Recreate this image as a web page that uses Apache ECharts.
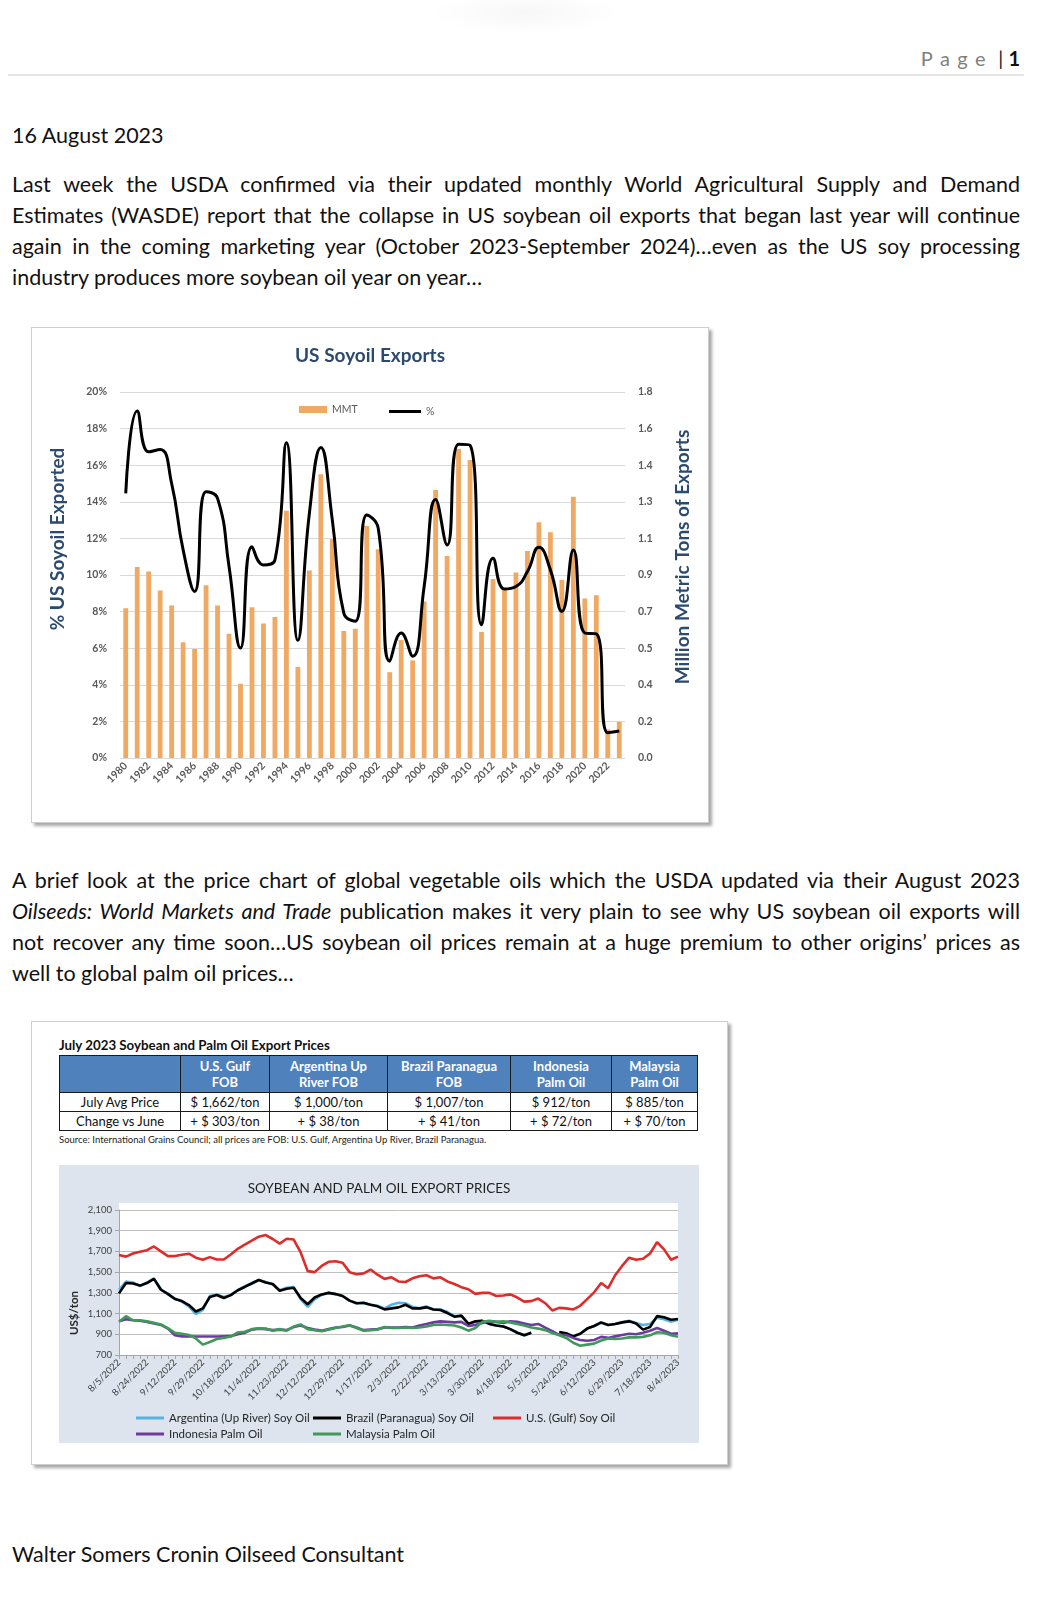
<!DOCTYPE html>
<html>
<head>
<meta charset="utf-8">
<script src="https://cdn.jsdelivr.net/npm/echarts/dist/echarts.min.js"></script>
<style>
  html, body { margin:0; padding:0; background:#fff; }
  body { width:1053px; height:1600px; position:relative; font-family:'Lato', 'Open Sans', sans-serif; color:#111; overflow:hidden; }
  .abs { position:absolute; }
  .txt { font-size:21.5px; line-height:31px; }
  .jl { width:1008px; white-space:nowrap; overflow:visible; }
  .jl span { white-space:nowrap; }
  .frame { position:absolute; box-sizing:border-box; border:1px solid #cfcfcf; background:#fff; box-shadow:3px 3px 3px rgba(0,0,0,0.35); }
  #tbl { position:absolute; left:59px; top:1055px; border-collapse:collapse; font-family:'Lato', sans-serif; table-layout:fixed; }
  #tbl td { border:1px solid #1a1a1a; text-align:center; padding:0; white-space:nowrap; }
  #tbl tr.head td { background:#4F81BD; color:#fff; font-weight:bold; font-size:13px; line-height:16px; height:36px; }
  #tbl tr.row td { font-size:13px; line-height:17px; height:18px; color:#111; }
</style>
</head>
<body>
<div class="abs" style="left:430px;top:-10px;width:190px;height:45px;border-radius:50%;background:radial-gradient(ellipse at center, rgba(0,0,0,0.03) 0%, rgba(0,0,0,0) 70%);"></div>

<div class="abs" style="right:33px;top:45px;font-size:20px;line-height:26px;white-space:nowrap;">
  <span style="letter-spacing:7.5px;color:#7f7f7f;">Page</span><span style="color:#222;"> | </span><b style="color:#111;">1</b>
</div>
<div class="abs" style="left:8px;top:74px;width:1016px;height:2px;background:#e4e4e4;"></div>

<div class="abs txt" style="left:12px;top:120px;">16 August 2023</div>

<div class="abs txt" style="left:12px;top:169px;">
  <div class="jl"><span>Last week the USDA confirmed via their updated monthly World Agricultural Supply and Demand</span></div>
  <div class="jl"><span>Estimates (WASDE) report that the collapse in US soybean oil exports that began last year will continue</span></div>
  <div class="jl"><span>again in the coming marketing year (October 2023-September 2024)…even as the US soy processing</span></div>
  <div><span>industry produces more soybean oil year on year…</span></div>
</div>

<div class="frame" style="left:31px;top:327px;width:678px;height:496px;">
  <div id="c1" style="width:676px;height:494px;"></div>
</div>

<div class="abs txt" style="left:12px;top:865px;">
  <div class="jl"><span>A brief look at the price chart of global vegetable oils which the USDA updated via their August 2023</span></div>
  <div class="jl"><span><i>Oilseeds: World Markets and Trade</i> publication makes it very plain to see why US soybean oil exports will</span></div>
  <div class="jl"><span>not recover any time soon…US soybean oil prices remain at a huge premium to other origins’ prices as</span></div>
  <div><span>well to global palm oil prices…</span></div>
</div>

<div class="frame" style="left:31px;top:1021px;width:697px;height:444px;"></div>
<div class="abs" style="left:59px;top:1036px;font-size:13.3px;line-height:18px;font-weight:bold;color:#111;white-space:nowrap;">July 2023 Soybean and Palm Oil Export Prices</div>
<table id="tbl"></table>
<div class="abs" style="left:59px;top:1134px;font-size:9.5px;line-height:12px;color:#222;white-space:nowrap;">Source: International Grains Council; all prices are FOB: U.S. Gulf, Argentina Up River, Brazil Paranagua.</div>
<div id="c2" class="abs" style="left:59px;top:1165px;width:640px;height:278px;"></div>

<div class="abs txt" style="left:12px;top:1539px;">Walter Somers Cronin Oilseed Consultant</div>

<script>
// ---------- Chart 1 data ----------
const YEARS = ['1980','1981','1982','1983','1984','1985','1986','1987','1988','1989',
               '1990','1991','1992','1993','1994','1995','1996','1997','1998','1999',
               '2000','2001','2002','2003','2004','2005','2006','2007','2008','2009',
               '2010','2011','2012','2013','2014','2015','2016','2017','2018','2019',
               '2020','2021','2022','2023'];
const MMT = [0.737, 0.939, 0.917, 0.824, 0.75, 0.569, 0.536, 0.849, 0.75, 0.611,
             0.365, 0.742, 0.662, 0.693, 1.216, 0.448, 0.922, 1.396, 1.077, 0.625,
             0.636, 1.141, 1.027, 0.422, 0.58, 0.48, 0.77, 1.318, 0.994, 1.52,
             1.465, 0.62, 0.88, 0.83, 0.912, 1.018, 1.159, 1.11, 0.876, 1.285,
             0.785, 0.801, 0.14, 0.178];
const PCT = [14.46, 18.96, 16.73, 16.86, 15.0, 11.37, 9.1, 14.55, 14.19, 10.46,
             6.01, 11.55, 10.55, 10.83, 17.22, 6.43, 13.37, 16.97, 13.0, 7.92,
             7.47, 13.28, 12.55, 5.29, 6.83, 5.56, 9.37, 14.13, 11.64, 17.15,
             17.09, 7.28, 10.92, 9.23, 9.37, 10.19, 11.52, 10.28, 8.01, 11.37,
             6.83, 6.79, 1.38, 1.47];

// ---------- Table data ----------
const TABLE_HEAD = ['', 'U.S. Gulf<br>FOB', 'Argentina Up<br>River FOB', 'Brazil Paranagua<br>FOB', 'Indonesia<br>Palm Oil', 'Malaysia<br>Palm Oil'];
const ROW_NAMES = ['July Avg Price', 'Change vs June'];
const AVG_PRICE = ['$ 1,662/ton', '$ 1,000/ton', '$ 1,007/ton', '$ 912/ton', '$ 885/ton'];
const CHANGE = ['+ $ 303/ton', '+ $ 38/ton', '+ $ 41/ton', '+ $ 72/ton', '+ $ 70/ton'];

// ---------- Chart 2 data ----------
const DATE_LABELS = ['8/5/2022','8/24/2022','9/12/2022','9/29/2022','10/18/2022','11/4/2022','11/23/2022',
  '12/12/2022','12/29/2022','1/17/2022','2/3/2022','2/22/2022','3/13/2022','3/30/2022','4/18/2022',
  '5/5/2022','5/24/2023','6/12/2023','6/29/2023','7/18/2023','8/4/2023'];
const ARGENTINA = [1330,1410,1400,1365,1400,1440,1335,1285,1245,1215,1170,1095,1135,1270,1285,1260,1280,1325,1365,1395,
  1425,1405,1380,1325,1350,1355,1240,1165,1240,1280,1300,1290,1270,1225,1200,1200,1185,1175,1150,1185,
  1205,1200,1165,1150,1170,1140,1140,1115,1075,1075,1005,1020,1030,1000,985,975,950,915,890,915,
  null,null,null,920,905,880,905,955,980,1010,990,1000,1015,1030,1010,990,1000,1060,1045,1020,1040];
const BRAZIL = [1295,1395,1390,1370,1395,1435,1330,1290,1240,1221,1182,1120,1150,1260,1279,1250,1278,1325,1357,1390,
  1424,1400,1385,1320,1340,1350,1250,1190,1255,1285,1300,1288,1270,1225,1200,1205,1185,1170,1140,1150,
  1160,1185,1150,1150,1160,1140,1135,1105,1070,1080,1000,1025,1030,1000,985,975,950,915,890,915,
  null,null,null,922,910,880,905,955,980,1015,990,1000,1015,1025,1005,945,970,1075,1065,1040,1047];
const US_GULF = [1665,1650,1680,1697,1712,1748,1700,1655,1655,1668,1678,1640,1620,1645,1622,1622,1670,1725,1765,1805,
  1842,1858,1820,1775,1822,1815,1690,1510,1500,1560,1600,1605,1590,1500,1480,1488,1525,1475,1435,1450,
  1410,1405,1440,1460,1470,1440,1450,1410,1385,1355,1335,1290,1300,1300,1270,1275,1285,1255,1215,1220,
  1245,1200,1130,1155,1150,1140,1175,1240,1305,1395,1345,1470,1560,1640,1620,1630,1680,1790,1720,1620,1650];
const INDONESIA = [1025,1045,1035,1030,1020,1005,990,955,890,880,880,878,878,878,878,880,882,900,915,945,
  955,950,940,945,940,970,985,960,945,935,950,965,970,985,965,940,945,950,965,965,
  965,970,965,985,1000,1015,1025,1020,1015,1020,980,990,1010,1025,1020,1010,1025,1020,1005,990,
  1000,965,930,895,893,865,845,838,845,875,865,880,893,905,900,915,935,960,935,905,909];
const MALAYSIA = [1021,1075,1035,1035,1025,1010,995,960,915,905,893,860,800,825,855,865,878,918,925,950,
  957,955,935,950,935,975,995,950,940,930,945,960,975,988,960,935,940,945,970,960,
  960,965,960,965,975,990,995,990,985,965,935,960,1020,1030,1020,1025,1015,1000,985,965,
  955,940,912,890,865,818,790,800,810,840,860,855,860,870,870,875,890,920,915,890,877];

// ---------- Table ----------
(function buildTable(){
  const widths = [121, 89, 118, 123, 101, 86];
  let html = '<colgroup>' + widths.map(w => '<col style="width:' + w + 'px">').join('') + '</colgroup>';
  html += '<tr class="head">' + TABLE_HEAD.map(h => '<td>' + h + '</td>').join('') + '</tr>';
  html += '<tr class="row"><td>' + ROW_NAMES[0] + '</td>' + AVG_PRICE.map(v => '<td>' + v + '</td>').join('') + '</tr>';
  html += '<tr class="row"><td>' + ROW_NAMES[1] + '</td>' + CHANGE.map(v => '<td>' + v + '</td>').join('') + '</tr>';
  const t = document.getElementById('tbl');
  t.innerHTML = html;
  t.style.width = widths.reduce((a, b) => a + b, 0) + 'px';
})();

// ---------- Justify lines ----------
document.querySelectorAll('.jl').forEach(div => {
  const span = div.querySelector('span');
  const w = span.getBoundingClientRect().width;
  const spaces = (span.textContent.match(/ /g) || []).length;
  if (spaces > 0) span.style.wordSpacing = ((1008 - w) / spaces) + 'px';
});

// ---------- Chart 1 ----------
const c1 = echarts.init(document.getElementById('c1'), null, {renderer: 'canvas'});
const grayTxt = '#595959';
const navy = '#2B4A6F';
c1.setOption({
  animation: false,
  backgroundColor: '#fff',
  textStyle: { fontFamily: 'Lato' },
  title: { text: 'US Soyoil Exports', left: 'center', top: 13,
    textStyle: { fontFamily: 'Lato', fontWeight: 'bold', fontSize: 19, color: navy } },
  legend: [
    { data: ['MMT'], left: 267, top: 76, padding: 0, icon: 'rect', itemWidth: 28, itemHeight: 7,
      textStyle: { fontSize: 10.5, color: grayTxt, fontFamily: 'Lato' } },
    { data: ['%'], left: 357, top: 78, padding: 0, icon: 'rect', itemWidth: 32, itemHeight: 3,
      textStyle: { fontSize: 10.5, color: grayTxt, fontFamily: 'Lato' } }
  ],
  grid: { left: 88, right: 83, top: 64, bottom: 64 },
  xAxis: {
    type: 'category', data: YEARS,
    axisLine: { show: false }, axisTick: { show: false },
    axisLabel: { interval: 1, rotate: 45, fontSize: 10.5, fontWeight: 'bold', color: grayTxt, margin: 6, fontFamily: 'Lato' }
  },
  yAxis: [
    { type: 'value', min: 0, max: 20, interval: 2,
      axisLine: { show: false }, axisTick: { show: false },
      axisLabel: { formatter: '{value}%', fontSize: 10.5, fontWeight: 'bold', color: grayTxt, margin: 13, fontFamily: 'Lato' },
      splitLine: { lineStyle: { color: '#D9D9D9', width: 1 } } },
    { type: 'value', min: 0, max: 1.8, interval: 0.18, position: 'right',
      axisLine: { show: false }, axisTick: { show: false },
      axisLabel: { formatter: v => v.toFixed(1), fontSize: 10.5, fontWeight: 'bold', color: grayTxt, margin: 13, fontFamily: 'Lato' },
      splitLine: { show: false } }
  ],
  series: [
    { name: 'MMT', type: 'bar', yAxisIndex: 1, data: MMT, barWidth: '42%',
      itemStyle: { color: '#F0A962' } },
    { name: '%', type: 'line', yAxisIndex: 0, data: PCT, smooth: 0.5, symbol: 'none',
      lineStyle: { color: '#000', width: 3 }, itemStyle: { color: '#000' } }
  ],
  graphic: [
    { type: 'text', x: 26, y: 211, rotation: Math.PI / 2,
      style: { text: '% US Soyoil Exported', font: 'bold 19px Lato', fill: navy, align: 'center', verticalAlign: 'middle' } },
    { type: 'text', x: 651, y: 229, rotation: Math.PI / 2,
      style: { text: 'Million Metric Tons of Exports', font: 'bold 19px Lato', fill: navy, align: 'center', verticalAlign: 'middle' } }
  ]
});

// ---------- Chart 2 ----------
const CATS = [];
DATE_LABELS.forEach((d, k) => {
  CATS.push(d);
  if (k < DATE_LABELS.length - 1) { CATS.push(''); CATS.push(''); CATS.push(''); }
});
const c2 = echarts.init(document.getElementById('c2'), null, {renderer: 'canvas'});
const legTxt = { fontSize: 11.5, color: '#262626', fontFamily: 'Lato' };
const mkLegend = (name, left, top) => ({ data: [name], left: left, top: top, padding: 0, icon: 'rect', itemWidth: 28, itemHeight: 3, itemGap: 0, textStyle: legTxt });
const mkLine = (name, data, color) => ({ name: name, type: 'line', data: data, symbol: 'none', connectNulls: false,
  lineStyle: { color: color, width: 2.6 }, itemStyle: { color: color } });
c2.setOption({
  animation: false,
  backgroundColor: '#DDE4EE',
  textStyle: { fontFamily: 'Lato' },
  title: { text: 'SOYBEAN AND PALM OIL EXPORT PRICES', left: 'center', top: 12,
    textStyle: { fontFamily: 'Lato', fontSize: 13.5, fontWeight: 'normal', color: '#1f1f1f' } },
  grid: { left: 60, right: 21, top: 45, bottom: 88 },
  legend: [
    mkLegend('Argentina (Up River) Soy Oil', 77, 247),
    mkLegend('Brazil (Paranagua) Soy Oil', 254, 247),
    mkLegend('U.S. (Gulf) Soy Oil', 434, 247),
    mkLegend('Indonesia Palm Oil', 77, 263),
    mkLegend('Malaysia Palm Oil', 254, 263)
  ],
  xAxis: {
    type: 'category', data: CATS, boundaryGap: false,
    axisLine: { lineStyle: { color: '#A6A6A6' } },
    axisTick: { interval: 0, length: 4, lineStyle: { color: '#A6A6A6' } },
    axisLabel: { interval: 3, rotate: 45, fontSize: 9.5, color: '#404040', margin: 6, fontFamily: 'Lato' }
  },
  yAxis: {
    type: 'value', min: 700, max: 2100, interval: 200,
    axisLine: { show: true, lineStyle: { color: '#A6A6A6' } },
    axisTick: { show: true, length: 4, lineStyle: { color: '#A6A6A6' } },
    axisLabel: { formatter: v => v.toLocaleString('en-US'), fontSize: 9.5, color: '#404040', margin: 7, fontFamily: 'Lato' },
    splitLine: { lineStyle: { color: '#BFBFBF' } }
  },
  series: [
    mkLine('Argentina (Up River) Soy Oil', ARGENTINA, '#55B3E6'),
    mkLine('Brazil (Paranagua) Soy Oil', BRAZIL, '#000000'),
    mkLine('U.S. (Gulf) Soy Oil', US_GULF, '#DD2C2A'),
    mkLine('Indonesia Palm Oil', INDONESIA, '#6E3AA0'),
    mkLine('Malaysia Palm Oil', MALAYSIA, '#3E9A58')
  ],
  graphic: [
    { type: 'rect', z: -10, shape: { x: 60, y: 38, width: 559, height: 152 }, style: { fill: '#ffffff' } },
    { type: 'text', x: 15, y: 148, rotation: Math.PI / 2,
      style: { text: 'US$/ton', font: 'bold 11.5px Lato', fill: '#262626', align: 'center', verticalAlign: 'middle' } }
  ]
});
</script>
</body>
</html>
